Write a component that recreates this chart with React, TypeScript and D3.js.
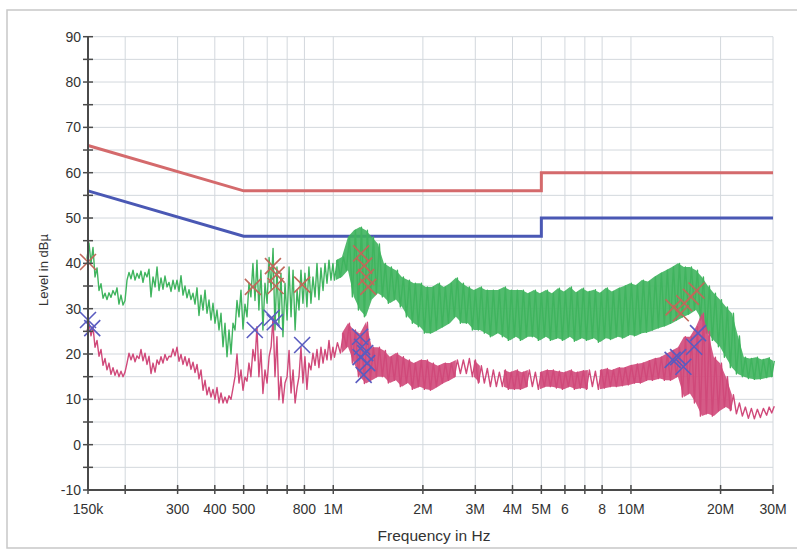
import React from "react";
import * as d3 from "d3";

// ---- data ----
const freqKHz = [
  150, 154.7, 159.6, 164.6, 169.8, 175.1, 180.6, 186.3, 192.1, 198.2,
  204.4, 210.8, 217.5, 224.3, 231.3, 238.6, 246.1, 253.9, 261.8, 270,
  278.5, 287.3, 296.3, 305.6, 315.2, 325.1, 335.3, 345.9, 356.7, 368,
  379.5, 391.4, 403.7, 416.4, 429.5, 443, 456.9, 471.3, 486, 501.3,
  517, 533, 550, 567, 585, 604, 623, 642, 662, 683,
  705, 727, 750, 773, 797, 822, 848, 875, 902, 931,
  960, 990, 1021, 1069, 1120, 1173, 1229, 1287, 1348, 1412,
  1479, 1549, 1623, 1700, 1781, 1865, 1954, 2047, 2144, 2246,
  2352, 2464, 2581, 2704, 2832, 2967, 3108, 3255, 3410, 3572,
  3742, 3919, 4106, 4301, 4505, 4719, 4943, 5178, 5424, 5682,
  5952, 6235, 6531, 6841, 7166, 7507, 7863, 8237, 8628, 9038,
  9468, 9917, 10390, 10880, 11400, 11940, 12510, 13100, 13730, 14380,
  15060, 15780, 16530, 17310, 18130, 18990, 19900, 20840, 21830, 22870,
  23950, 25090, 26280, 27530, 28840, 30000,
];
const greenLo = [
  41, 40, 37, 34, 32.3, 32, 32.5, 33, 31, 30.8,
  36.3, 36.6, 36.3, 36.7, 35.8, 37, 32.6, 34.8, 34, 34.3,
  34.8, 33.8, 34.3, 33.8, 33, 32.4, 32, 31, 28.5, 29.7,
  29, 27.5, 26.8, 25.3, 21.6, 19.4, 20, 25.3, 28.2, 25.5,
  28.2, 32.6, 31.8, 29.7, 25.3, 31.2, 34.1, 25.3, 26.8, 23.8,
  27.5, 28.2, 25.3, 29.7, 31.2, 30.4, 31.2, 32.6, 32, 34,
  35.6, 36.3, 36.3, 37, 38.5, 32.6, 29.7, 28.2, 32, 33.4,
  32.6, 31.2, 32, 30.4, 28.2, 26.8, 26, 24.6, 24.6, 25.3,
  26, 26.8, 28.2, 26.8, 26.8, 25.3, 25.3, 24.6, 23.8, 24.6,
  23.8, 23, 23.8, 23, 23.8, 23.8, 23, 23.8, 23, 23.5,
  23, 23.8, 22.8, 23.5, 23, 23.5, 22.6, 23.5, 23.2, 23.8,
  23.5, 24.2, 24, 24.6, 24.8, 25.3, 25.8, 26.2, 26.8, 27.5,
  28.2, 28.8, 29.7, 27.5, 24.6, 23, 21.6, 19.3, 17, 15.6,
  15, 14.6, 14.4, 14.5, 14.8, 15,
];
const greenHi = [
  44.5, 43.5, 39, 35.5, 33.4, 33.5, 34, 34.6, 33, 31.8,
  38, 38.5, 37.8, 38.3, 38, 38.7, 37, 39.2, 36.8, 37.2,
  35.8, 36.3, 36.3, 37.3, 35, 34.2, 33.4, 34.6, 33, 34.1,
  31.9, 31.2, 29.7, 29, 26.8, 25.3, 26.8, 31.8, 34.1, 31,
  35.6, 40, 40.7, 38.5, 35.6, 41.3, 43.3, 39.2, 37.8, 35.6,
  39.2, 38.5, 34.1, 38.5, 37.8, 39.2, 37, 40, 39, 40,
  40.7, 40, 40.7, 41.4, 45.8, 47.3, 48, 47.3, 45.8, 44.3,
  40, 39.2, 38.5, 37, 36.3, 35.6, 35.6, 34.8, 34.8, 35.6,
  34.8, 35.6, 36.8, 35.6, 34.8, 34.1, 34.8, 34.1, 34.1, 34.1,
  34.8, 34.1, 34.1, 34.1, 33.4, 34.1, 33.4, 34.1, 33.4, 34.5,
  33.8, 34.8, 33.6, 34.5, 33.8, 34.2, 33.5, 34.6, 33.8, 34.5,
  35, 35.6, 35.2, 36.3, 36, 37, 37.8, 38.5, 39.2, 40,
  39.2, 39.2, 38.5, 37, 35, 33.4, 32, 30.4, 29, 24,
  19.3, 19, 19.3, 18.8, 19.2, 18.5,
];
const pinkLo = [
  25, 24, 21.5, 19.5, 17.5, 16.5, 15.5, 15.3, 15, 15,
  18, 18.7, 18.3, 19, 18.5, 17.7, 15.7, 16, 17.7, 18,
  18.6, 19.4, 19.6, 18.4, 17.7, 17.4, 16.6, 15.9, 14.5, 12,
  11, 10.5, 10, 9.2, 9.2, 9.2, 10, 15, 13.6, 12,
  14, 15, 18.5, 15, 11.3, 13.6, 21.6, 15, 9.9, 9.2,
  15, 11.4, 9.2, 15, 13.6, 12.2, 16.5, 17.5, 17, 18,
  18.7, 18.7, 19.3, 20.2, 21.6, 18, 15, 13.5, 14.2, 15,
  15, 13.6, 14.2, 12.8, 13.6, 12.2, 12.8, 12.2, 12, 12.8,
  13.6, 14.2, 15, 15.7, 15.7, 15, 13.6, 13.6, 12.8, 12.8,
  12.8, 12.2, 12.2, 12.2, 12.8, 12.8, 12.2, 12.8, 12.8, 12.5,
  12.2, 12.8, 12.2, 12.5, 12.2, 12.8, 12.2, 12.5, 12.8, 12.8,
  13, 13.2, 13.6, 13.6, 14.2, 14.2, 14.6, 14.2, 14.2, 15,
  10.5, 11.3, 9.2, 6.3, 6.8, 6.3, 7.5, 8.3, 7.5, 6.8,
  6.3, 5.8, 5.7, 6, 6.5, 7,
];
const pinkHi = [
  27, 26, 23, 21, 19, 18, 17, 16.5, 16.2, 16,
  20.2, 20, 19.6, 21, 20.2, 19.5, 18, 18.7, 19.4, 19.9,
  19.5, 21.1, 21.5, 19.9, 19.4, 19, 18.2, 17.7, 16.5, 14.2,
  12.7, 12.2, 12.6, 11.4, 10.5, 10.8, 12.5, 20, 16.5, 14.9,
  18, 21, 26, 21, 16.5, 19.4, 28.2, 23.8, 15, 13.6,
  20.8, 16.5, 12.6, 21.5, 19.4, 18, 20.2, 21, 21.5, 21,
  23, 21.5, 22.5, 24.6, 26.8, 25.3, 24.5, 27, 21.5, 21.5,
  20.8, 19.4, 20.2, 19.4, 18.7, 18, 18.7, 18.7, 18, 17.4,
  18, 18, 18.7, 18.7, 19, 18.7, 17.4, 16.8, 16.5, 16,
  16.5, 16, 16.5, 16, 16.5, 16, 16, 16.5, 16.5, 16.2,
  16, 16.5, 16, 16.3, 16.5, 16.2, 16.5, 16.8, 16.5, 17,
  17, 17.5, 17.8, 18, 18.5, 19, 19.3, 20, 20.8, 21.5,
  23.8, 23.8, 26, 29, 25, 19.3, 18, 15, 11, 9.2,
  8.3, 8, 7.8, 8, 8.3, 8.5,
];

const limitFreqs = [150e3, 500e3, 5e6, 5e6, 30e6];
const qpLimit = [66, 56, 56, 60, 60];
const avLimit = [56, 46, 46, 50, 50];

const qpMarkFreqKHz = [150, 537, 627, 645, 640, 786, 1240, 1270, 1290, 1310, 13900, 14700, 15100, 15900, 16600];
const qpMarkLevel = [40.3, 34.8, 39.4, 37.5, 35, 35.3, 42.2, 39.5, 37, 34.8, 30.3, 29, 31.2, 32.6, 34];
const avMarkFreqKHz = [150, 155, 545, 621, 636, 786, 1230, 1250, 1235, 1280, 1300, 1265, 13800, 14400, 15000, 16300, 16800];
const avMarkLevel = [27.5, 25.7, 25.3, 28, 27, 22, 23.8, 21.6, 19.3, 20.2, 18, 15.4, 18.7, 19.3, 17.2, 21.6, 24.6];

const gridFreqs = [150e3, 200e3, 300e3, 400e3, 500e3, 600e3, 700e3, 800e3, 1e6, 2e6, 3e6, 4e6, 5e6, 6e6, 7e6, 8e6, 10e6, 20e6, 30e6];
const xTickLabels: [number, string][] = [
  [150e3, "150k"], [300e3, "300"], [400e3, "400"], [500e3, "500"], [800e3, "800"], [1e6, "1M"],
  [2e6, "2M"], [3e6, "3M"], [4e6, "4M"], [5e6, "5M"], [6e6, "6"], [8e6, "8"], [10e6, "10M"],
  [20e6, "20M"], [30e6, "30M"],
];
const yTicks = d3.range(-10, 91, 5);
const yLabels = d3.range(-10, 91, 10);

// ---- drawing ----
const W = 797, H = 550;
const FONT = "Liberation Sans, Arial, Helvetica, sans-serif";

export default function App() {
  const x = d3.scaleLog().domain([150e3, 30e6]).range([88, 773]);
  const y = d3.scaleLinear().domain([-10, 90]).range([490, 36.7]);

  const idx = freqKHz.map((_, i) => i);
  const px = (i: number) => x(freqKHz[i] * 1e3);
  const stepAt = (i: number) =>
    i < idx.length - 1 ? px(i + 1) - px(i) : px(i) - px(i - 1);

  const bandArea = (lo: number[], hi: number[]) =>
    d3.area<number>()
      .x((i) => px(i))
      .y0((i) => y(lo[i]))
      .y1((i) => y(hi[i]))
      .defined((i) => freqKHz[i] >= 1000 && hi[i] - lo[i] >= 3.5)(idx) || "";

  // noise-like sawtooth: each sample goes from its minimum up to its maximum
  const sawtooth = (lo: number[], hi: number[]) => {
    const pts: [number, number][] = [];
    idx.forEach((i) => {
      const fx = px(i), s = stepAt(i) / 4;
      pts.push([fx - s, y(lo[i])], [fx + s, y(hi[i])]);
    });
    return d3.line()(pts) || "";
  };
  const limitLine = (vals: number[]) =>
    d3.line<number>().x((_, i) => x(limitFreqs[i])).y((v) => y(v))(vals) || "";

  const cross = (f: number, v: number, color: string, key: string) => {
    const cx = x(f * 1e3), cy = y(v), r = 8;
    return (
      <path key={key} d={`M${cx - r},${cy - r}L${cx + r},${cy + r}M${cx - r},${cy + r}L${cx + r},${cy - r}`}
        stroke={color} strokeWidth={1.6} fill="none" />
    );
  };

  const green = "#3fb45e";
  const pink = "#d0497a";

  return (
    <svg width={W} height={H} style={{ position: "absolute", left: 0, top: 0, background: "#fff" }} fontFamily={FONT}>
      <rect x={0} y={0} width={W} height={H} fill="#fff" />
      {/* frame */}
      <path d={`M800,10H7V548H800`} fill="none" stroke="#c8c8c8" strokeWidth={1.5} />
      {/* grid */}
      {yTicks.map((t) => (
        <line key={"gy" + t} x1={88} x2={773} y1={y(t)} y2={y(t)} stroke="#d3d8dd" strokeWidth={1} />
      ))}
      {gridFreqs.map((f) => (
        <line key={"gx" + f} x1={x(f)} x2={x(f)} y1={y(90)} y2={y(-10)} stroke="#d3d8dd" strokeWidth={1} />
      ))}
      {/* limits */}
      <path d={limitLine(qpLimit)} fill="none" stroke="#d46a6c" strokeWidth={3} />
      <path d={limitLine(avLimit)} fill="none" stroke="#4a58b4" strokeWidth={3} />
      {/* traces */}
      <path d={bandArea(greenLo, greenHi)} fill={green} fillOpacity={0.9} stroke="none" />
      <path d={sawtooth(greenLo, greenHi)} fill="none" stroke={green} strokeWidth={1.4} strokeLinejoin="round" />
      <path d={bandArea(pinkLo, pinkHi)} fill={pink} fillOpacity={0.9} stroke="none" />
      <path d={sawtooth(pinkLo, pinkHi)} fill="none" stroke={pink} strokeWidth={1.4} strokeLinejoin="round" />
      {/* markers */}
      {qpMarkFreqKHz.map((f, i) => cross(f, qpMarkLevel[i], "#c0685a", "q" + i))}
      {avMarkFreqKHz.map((f, i) => cross(f, avMarkLevel[i], "#5a5cc0", "a" + i))}
      {/* axes */}
      <line x1={88} x2={88} y1={y(90)} y2={y(-10)} stroke="#4a4a4a" strokeWidth={2} />
      <line x1={88} x2={773} y1={y(-10)} y2={y(-10)} stroke="#4a4a4a" strokeWidth={2} />
      {yTicks.map((t) => (
        <line key={"ty" + t} x1={83} x2={93} y1={y(t)} y2={y(t)} stroke="#4a4a4a" strokeWidth={1.5} />
      ))}
      {gridFreqs.map((f) => (
        <line key={"tx" + f} x1={x(f)} x2={x(f)} y1={y(-10) - 5} y2={y(-10) + 4} stroke="#4a4a4a" strokeWidth={1.5} />
      ))}
      {yLabels.map((t) => (
        <text key={"ly" + t} x={81} y={y(t)} dy="0.35em" textAnchor="end" fontSize={14} fill="#333">{t}</text>
      ))}
      {xTickLabels.map(([f, s]) => (
        <text key={"lx" + s} x={x(f)} y={514} textAnchor="middle" fontSize={14} fill="#333">{s}</text>
      ))}
      <text x={434} y={541} textAnchor="middle" fontSize={15.5} fill="#333">Frequency in Hz</text>
      <text transform="translate(48,270) rotate(-90)" textAnchor="middle" fontSize={13} fill="#333">Level in dBµ</text>
    </svg>
  );
}
